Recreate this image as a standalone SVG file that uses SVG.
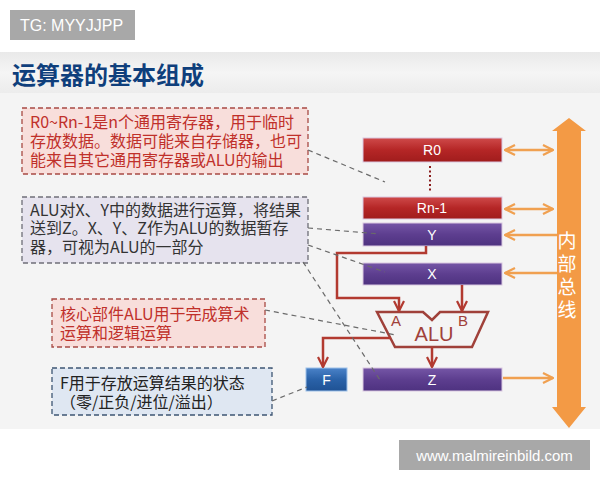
<svg xmlns="http://www.w3.org/2000/svg" width="600" height="480" viewBox="0 0 600 480">
<defs>
<linearGradient id="gTitle" x1="0" y1="0" x2="0" y2="1"><stop offset="0" stop-color="#e9e9e9"/><stop offset="0.5" stop-color="#f5f5f5"/><stop offset="1" stop-color="#ececec"/></linearGradient>
<linearGradient id="gRed" x1="0" y1="0" x2="0" y2="1"><stop offset="0" stop-color="#cf4a4a"/><stop offset="0.5" stop-color="#b52626"/><stop offset="1" stop-color="#a01c1c"/></linearGradient>
<linearGradient id="gPur" x1="0" y1="0" x2="0" y2="1"><stop offset="0" stop-color="#7556a6"/><stop offset="0.5" stop-color="#5d3e8f"/><stop offset="1" stop-color="#4e3280"/></linearGradient>
<linearGradient id="gBlue" x1="0" y1="0" x2="0" y2="1"><stop offset="0" stop-color="#4a82c8"/><stop offset="0.5" stop-color="#2a62a8"/><stop offset="1" stop-color="#1f5294"/></linearGradient>
<marker id="ao" viewBox="0 0 12 12" refX="11" refY="6" markerWidth="12" markerHeight="12" markerUnits="userSpaceOnUse" orient="auto-start-reverse"><path d="M1,1 L11,6 L1,11" fill="none" stroke="#f0a050" stroke-width="2.2"/></marker>
<marker id="ar" viewBox="0 0 12 12" refX="11" refY="6" markerWidth="12" markerHeight="12" markerUnits="userSpaceOnUse" orient="auto"><path d="M1,1 L11,6 L1,11" fill="none" stroke="#b23a30" stroke-width="2.2"/></marker>
</defs>
<style>
.reg{stroke:#d9c8e0;stroke-width:1}
.rt{font-family:"Liberation Sans",Arial,sans-serif;font-size:14px;fill:#fff;text-anchor:middle}
.note{font-family:"Noto Sans CJK SC","Liberation Sans",sans-serif;font-size:16px}
.dash{fill:none;stroke:#6a6a6a;stroke-width:1.2;stroke-dasharray:5 4}
.orange{fill:none;stroke:#f0a050;stroke-width:2.5}
.red{fill:none;stroke:#b23a30;stroke-width:2.5}
</style>
<rect x="0" y="0" width="600" height="480" fill="#ffffff"/>
<rect x="0" y="52" width="600" height="41" fill="url(#gTitle)"/>
<rect x="0" y="93" width="600" height="336" fill="#f4f4f4"/>
<g id="tag"><rect x="10" y="10" width="125" height="30" fill="#a8a8a8"/><text x="20" y="31" font-family="Liberation Sans,Arial,sans-serif" font-size="16" fill="#ffffff">TG: MYYJJPP</text></g>
<text x="12" y="84" font-family="Noto Sans CJK SC,sans-serif" font-size="24" font-weight="bold" fill="#0f3f7c">运算器的基本组成</text>
<g id="wm"><rect x="399" y="440" width="191" height="30" fill="#a8a8a8"/><text x="494.5" y="461" text-anchor="middle" font-family="Liberation Sans,Arial,sans-serif" font-size="15" fill="#ffffff">www.malmireinbild.com</text></g>

<g id="note1"><rect x="22" y="108" width="286" height="66" fill="#f8dedb" stroke="#a84a44" stroke-width="1.3" stroke-dasharray="5 3"/>
<text class="note" fill="#c0302a"><tspan x="30" y="128">R0~Rn-1是n个通用寄存器，用于临时</tspan><tspan x="30" y="147">存放数据。数据可能来自存储器，也可</tspan><tspan x="30" y="166">能来自其它通用寄存器或ALU的输出</tspan></text></g>
<g id="note2"><rect x="22" y="197" width="286" height="66" fill="#e6e3ee" stroke="#6f6f78" stroke-width="1.3" stroke-dasharray="5 3"/>
<text class="note" fill="#333333"><tspan x="30" y="216">ALU对X、Y中的数据进行运算，将结果</tspan><tspan x="30" y="234">送到Z。X、Y、Z作为ALU的数据暂存</tspan><tspan x="30" y="253">器，可视为ALU的一部分</tspan></text></g>
<g id="note3"><rect x="52" y="299" width="213" height="48" fill="#f8dedb" stroke="#a84a44" stroke-width="1.3" stroke-dasharray="5 3"/>
<text class="note" fill="#c0302a"><tspan x="60" y="320">核心部件ALU用于完成算术</tspan><tspan x="60" y="339">运算和逻辑运算</tspan></text></g>
<g id="note4"><rect x="52" y="368" width="220" height="47" fill="#dfe7f2" stroke="#3e5673" stroke-width="1.3" stroke-dasharray="5 3"/>
<text class="note" fill="#222222"><tspan x="60" y="389">F用于存放运算结果的状态</tspan><tspan x="60" y="408">（零/正负/进位/溢出）</tspan></text></g>

<g id="bus"><polygon points="569,118 586,131 581,131 581,407 586,407 569,428 552,407 557,407 557,131 552,131" fill="#f39a45"/>
<text font-family="Noto Sans CJK SC,sans-serif" font-size="19" fill="#ffffff" text-anchor="middle"><tspan x="567" y="248">内</tspan><tspan x="567" y="271">部</tspan><tspan x="567" y="294">总</tspan><tspan x="567" y="317">线</tspan></text></g>

<g id="R0"><rect class="reg" x="363" y="138" width="139" height="24" fill="url(#gRed)"/><text class="rt" x="432" y="155">R0</text></g>
<g id="Rn-1"><rect class="reg" x="363" y="197" width="139" height="22" fill="url(#gRed)"/><text class="rt" x="432" y="213">Rn-1</text></g>
<g id="Y"><rect class="reg" x="363" y="223" width="139" height="23" fill="url(#gPur)"/><text class="rt" x="432" y="240">Y</text></g>
<g id="X"><rect class="reg" x="363" y="263" width="139" height="22" fill="url(#gPur)"/><text class="rt" x="432" y="279">X</text></g>
<g id="Z"><rect class="reg" x="363" y="368" width="139" height="23" fill="url(#gPur)"/><text class="rt" x="432" y="385">Z</text></g>
<g id="F"><rect x="306" y="368" width="41" height="23" fill="url(#gBlue)" stroke="#9cc0e8" stroke-width="1"/><text class="rt" x="326.5" y="385">F</text></g>
<g id="ALU"><polygon points="377,312 423,312 432,320 440,312 488,312 472,347 395,347" fill="none" stroke="#a0413a" stroke-width="2.5" stroke-linejoin="miter"/>
<text font-family="Liberation Sans,Arial,sans-serif" font-size="15" fill="#a0413a" text-anchor="middle"><tspan x="396" y="326">A</tspan><tspan x="463" y="326">B</tspan></text>
<text x="434" y="341" font-family="Liberation Sans,Arial,sans-serif" font-size="20" fill="#a0413a" text-anchor="middle">ALU</text></g>

<g id="connectors">
<line x1="430" y1="166" x2="430" y2="191" stroke="#8a1e1e" stroke-width="2" stroke-dasharray="2 2.5"/>
<line class="orange" x1="505" y1="150" x2="553" y2="150" marker-start="url(#ao)" marker-end="url(#ao)"/>
<line class="orange" x1="505" y1="209" x2="553" y2="209" marker-start="url(#ao)" marker-end="url(#ao)"/>
<line class="orange" x1="557" y1="235" x2="505" y2="235" marker-end="url(#ao)"/>
<line class="orange" x1="557" y1="273" x2="505" y2="273" marker-end="url(#ao)"/>
<line class="orange" x1="503" y1="378" x2="553" y2="378" marker-end="url(#ao)"/>
<polyline class="red" points="426,246 426,253 337,253 337,298 399,298 399,311" marker-end="url(#ar)"/>
<polyline class="red" points="462,285 462,311" marker-end="url(#ar)"/>
<polyline class="red" points="432,347 432,367" marker-end="url(#ar)"/>
<polyline class="red" points="391,338 323,338 323,367" marker-end="url(#ar)"/>
<line class="dash" x1="308" y1="150" x2="385" y2="182"/>
<line class="dash" x1="308" y1="228" x2="380" y2="234"/>
<line class="dash" x1="308" y1="245" x2="385" y2="272"/>
<line class="dash" x1="303" y1="262" x2="380" y2="380"/>
<line class="dash" x1="265" y1="310" x2="396" y2="335"/>
<line class="dash" x1="272" y1="401" x2="307" y2="387"/>
</g>
</svg>
